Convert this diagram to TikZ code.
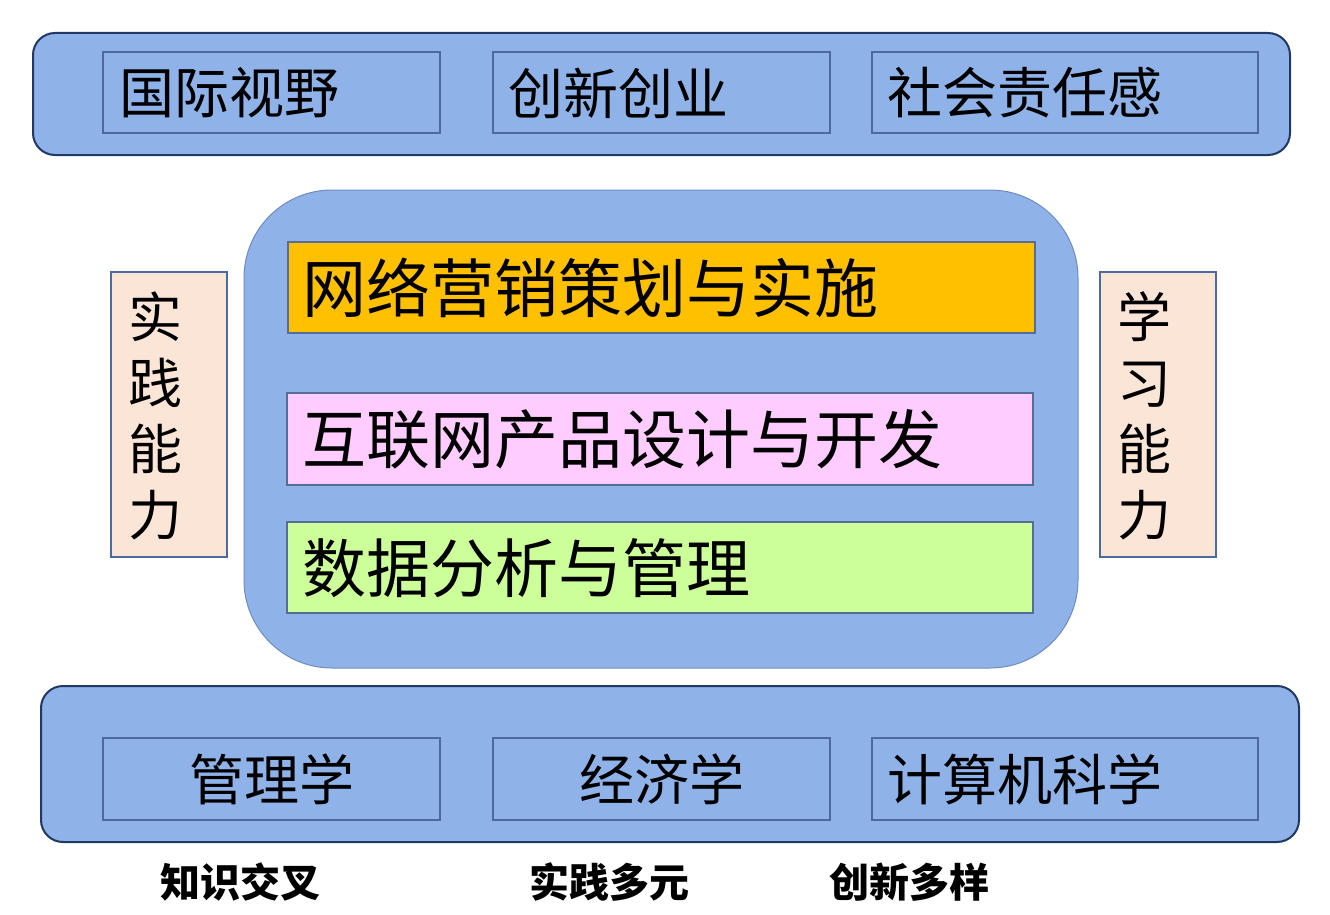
\documentclass[tikz,border=0pt]{standalone}
\usepackage{fontspec}
\newfontfamily\cjk{Noto Sans CJK SC}
\definecolor{bandblue}{RGB}{143,179,232}
\definecolor{banddark}{RGB}{31,56,100}
\definecolor{boxline}{RGB}{74,106,160}
\definecolor{midline}{RGB}{110,140,195}
\definecolor{orangefill}{RGB}{255,192,0}
\definecolor{pinkfill}{RGB}{255,204,255}
\definecolor{greenfill}{RGB}{204,255,153}
\definecolor{peachfill}{RGB}{251,229,214}
\tikzset{
  band/.style={draw=banddark, line width=2pt, fill=bandblue, rounded corners=22pt},
  inbox/.style={draw=boxline, line width=1.3pt},
  colbox/.style={draw=boxline!80!gray, line width=1.3pt},
  bigtxt/.style={font=\cjk\fontsize{55}{60}\selectfont, inner sep=0pt, text=black},
  midtxt/.style={font=\cjk\fontsize{64}{70}\selectfont, inner sep=0pt, text=black},
  vtxt/.style={font=\cjk\fontsize{54}{66}\selectfont, inner sep=0pt, align=center, text=black},
  foot/.style={font=\cjk\bfseries\fontsize{40}{44}\selectfont, inner sep=0pt, text=black}
}
\begin{document}
\begin{tikzpicture}[x=1pt,y=-1pt]
\useasboundingbox (0,0) rectangle (1330,915);
% top band
\draw[band] (33,33) rectangle (1290,155);
\draw[inbox] (103,52) rectangle (440,133);
\draw[inbox] (493,52) rectangle (830,133);
\draw[inbox] (872,52) rectangle (1258,133);
\node[bigtxt, anchor=west] (t1) at (119,93) {国际视野};
\node[bigtxt, anchor=west] (t2) at (508,93) {创新创业};
\node[bigtxt, anchor=west] (t3) at (887,93) {社会责任感};
% middle
\draw[draw=midline, line width=1pt, fill=bandblue, rounded corners=88pt] (244,190) rectangle (1078,668);
\draw[colbox, fill=orangefill] (288,242) rectangle (1035,333);
\draw[colbox, fill=pinkfill] (287,393) rectangle (1033,485);
\draw[colbox, fill=greenfill] (287,522) rectangle (1033,613);
\node[midtxt, anchor=west] (m1) at (302,288) {网络营销策划与实施};
\node[midtxt, anchor=west] (m2) at (302,439) {互联网产品设计与开发};
\node[midtxt, anchor=west] (m3) at (302,568) {数据分析与管理};
% side boxes
\draw[inbox, fill=peachfill] (111,272) rectangle (227,557);
\draw[inbox, fill=peachfill] (1100,272) rectangle (1216,557);
\node[vtxt] (l1) at (155,416) {实\\践\\能\\力};
\node[vtxt] (r1) at (1144,416) {学\\习\\能\\力};
% bottom band
\draw[band] (41,686) rectangle (1299,842);
\draw[inbox] (103,738) rectangle (440,820);
\draw[inbox] (493,738) rectangle (830,820);
\draw[inbox] (872,738) rectangle (1258,820);
\node[bigtxt] (b1) at (272,779) {管理学};
\node[bigtxt] (b2) at (662,779) {经济学};
\node[bigtxt, anchor=west] (b3) at (887,779) {计算机科学};
% footer
\node[foot] (f1) at (240,882) {知识交叉};
\node[foot] (f2) at (609,882) {实践多元};
\node[foot] (f3) at (909,882) {创新多样};
\end{tikzpicture}
\end{document}
